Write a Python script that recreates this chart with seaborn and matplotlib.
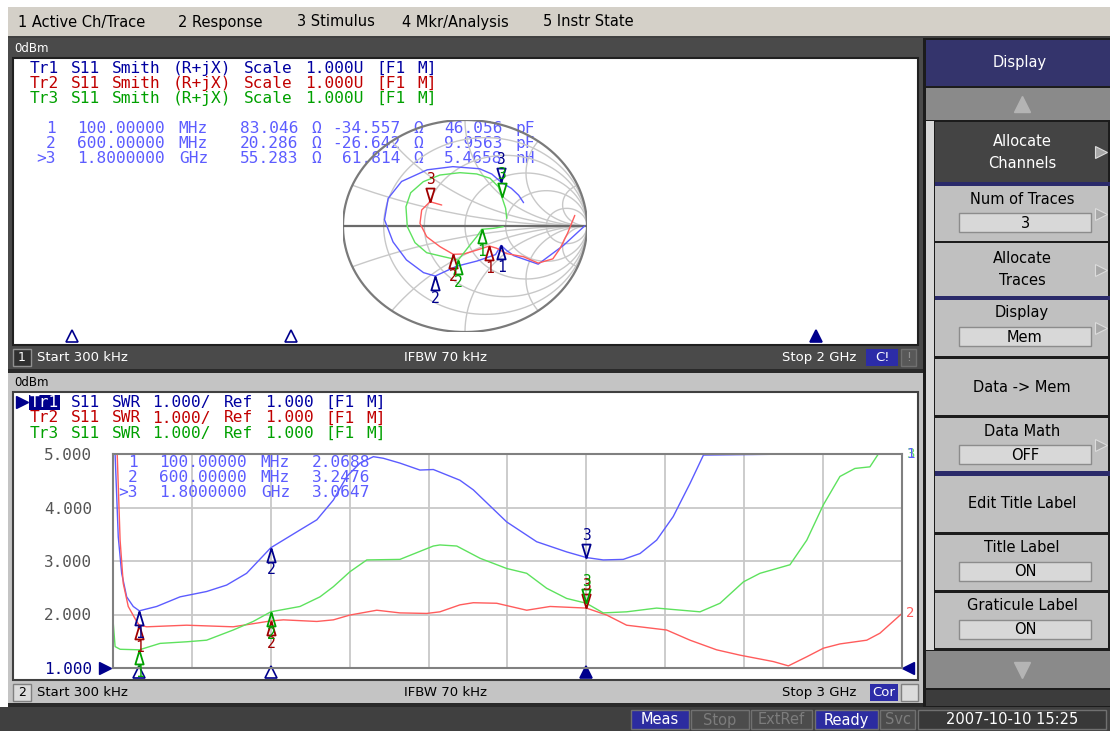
"""
Network analyzer screen: S11 Smith chart (channel 1) and SWR (channel 2)
with three memory/data traces, markers at 100 MHz, 600 MHz and 1.8 GHz.
"""

import re
import numpy as np
import pandas as pd
import matplotlib
matplotlib.use("Agg")
import matplotlib.pyplot as plt
from matplotlib.patches import Rectangle
from matplotlib.transforms import offset_copy
import seaborn as sns

sns.set_style("white")
plt.rcParams["font.family"] = ["DejaVu Sans"]

# ── Data read from the screen ────────────────────────────────────────────────
# Channel 1: Smith chart, reflection coefficient (real, imag)
tr1_smith_re = [0.98, 0.81, 0.60, 0.50, 0.40, 0.34, 0.296, 0.25, 0.10, -0.07, -0.244,
                -0.34, -0.48, -0.59, -0.66, -0.63, -0.52, -0.31, -0.10, 0.12, 0.22,
                0.294, 0.38, 0.44, 0.48]
tr1_smith_im = [0.0, -0.18, -0.36, -0.32, -0.28, -0.23, -0.183, -0.27, -0.33, -0.38, -0.472,
                -0.44, -0.32, -0.15, 0.06, 0.26, 0.42, 0.53, 0.56, 0.54, 0.49,
                0.415, 0.355, 0.29, 0.22]
tr2_smith_re = [0.90, 0.84, 0.78, 0.72, 0.60, 0.48, 0.34, 0.26, 0.20, 0.10, -0.01, -0.096,
                -0.205, -0.314, -0.369, -0.355, -0.287, -0.191]
tr2_smith_im = [0.10, -0.07, -0.21, -0.31, -0.35, -0.29, -0.26, -0.21, -0.189, -0.226, -0.264,
                -0.267, -0.195, -0.101, 0.025, 0.151, 0.229, 0.198]
tr3_smith_re = [0.314, 0.232, 0.137, 0.096, 0.041, -0.055, -0.178, -0.314, -0.41, -0.473,
                -0.484, -0.445, -0.342, -0.205, -0.041, 0.096, 0.205, 0.273, 0.301, 0.333, 0.342]
tr3_smith_im = [-0.006, -0.022, -0.031, -0.101, -0.179, -0.321, -0.289, -0.252, -0.157, -0.006,
                0.182, 0.314, 0.418, 0.481, 0.503, 0.491, 0.45, 0.371, 0.277, 0.167, 0.072]

# Smith marker positions (markers 1, 2, 3)
mk1_smith_re = [0.296, -0.244, 0.294]
mk1_smith_im = [-0.183, -0.472, 0.415]
mk2_smith_re = [0.20, -0.096, -0.287]
mk2_smith_im = [-0.189, -0.267, 0.229]
mk3_smith_re = [0.137, -0.055, 0.301]
mk3_smith_im = [-0.031, -0.321, 0.277]

# Channel 2: SWR vs frequency (GHz), displayed values (top of scale = 5)
freq_tr1 = [0.0, 0.008, 0.020, 0.033, 0.052, 0.077, 0.1, 0.166, 0.255, 0.356, 0.432, 0.508,
            0.6, 0.711, 0.775, 0.838, 0.889, 0.939, 0.99, 1.028, 1.091, 1.167, 1.218, 1.319,
            1.370, 1.497, 1.611, 1.725, 1.8, 1.864, 1.940, 2.004, 2.067, 2.130, 2.194, 2.245,
            2.6, 3.0]
swr_tr1 = [5.0, 5.0, 3.45, 2.77, 2.33, 2.15, 2.0688, 2.15, 2.33, 2.43, 2.55, 2.77,
           3.2476, 3.58, 3.77, 4.14, 4.58, 4.83, 4.95, 4.92, 4.83, 4.70, 4.71, 4.51,
           4.33, 3.73, 3.36, 3.17, 3.0647, 3.02, 3.03, 3.14, 3.39, 3.83, 4.45, 4.98,
           5.0, 5.0]
freq_tr2 = [0.0, 0.016, 0.027, 0.039, 0.058, 0.090, 0.1, 0.128, 0.280, 0.457, 0.6, 0.648,
            0.775, 0.838, 0.901, 1.003, 1.091, 1.193, 1.243, 1.319, 1.370, 1.459, 1.573,
            1.662, 1.8, 1.877, 1.953, 2.105, 2.194, 2.295, 2.384, 2.511, 2.568, 2.638,
            2.701, 2.764, 2.866, 2.916, 3.0]
swr_tr2 = [5.0, 5.0, 3.39, 2.58, 2.15, 1.87, 1.80, 1.77, 1.80, 1.77, 1.88, 1.90,
           1.87, 1.90, 1.99, 2.08, 2.03, 2.02, 2.05, 2.18, 2.22, 2.21, 2.08,
           2.15, 2.12, 1.99, 1.80, 1.71, 1.52, 1.34, 1.24, 1.12, 1.04, 1.21,
           1.37, 1.45, 1.52, 1.65, 2.02]
freq_tr3 = [0.0, 0.008, 0.027, 0.1, 0.179, 0.280, 0.356, 0.457, 0.533, 0.6, 0.711, 0.787,
            0.838, 0.901, 0.965, 1.091, 1.218, 1.243, 1.307, 1.396, 1.497, 1.573, 1.649,
            1.725, 1.8, 1.864, 1.953, 2.067, 2.232, 2.308, 2.397, 2.460, 2.574, 2.638,
            2.701, 2.764, 2.821, 2.878, 2.910, 3.0]
swr_tr3 = [1.90, 1.40, 1.35, 1.34, 1.46, 1.49, 1.52, 1.71, 1.87, 2.05, 2.15, 2.33,
           2.52, 2.80, 3.02, 3.03, 3.28, 3.30, 3.28, 3.05, 2.86, 2.77, 2.49,
           2.30, 2.21, 2.03, 2.05, 2.12, 2.05, 2.21, 2.61, 2.77, 2.93, 3.39,
           4.05, 4.58, 4.73, 4.76, 5.0, 5.0]

mk_freq = [0.1, 0.6, 1.8]
mk_swr_tr1 = [2.0688, 3.2476, 3.0647]
mk_swr_tr2 = [1.80, 1.88, 2.12]
mk_swr_tr3 = [1.34, 2.05, 2.21]

swr_ticks = [1, 2, 3, 4, 5]

ch1_header = ["Tr1 S11 Smith (R+jX) Scale 1.000U [F1 M]",
              "Tr2 S11 Smith (R+jX) Scale 1.000U [F1 M]",
              "Tr3 S11 Smith (R+jX) Scale 1.000U [F1 M]"]
ch1_readout = [" 1  100.00000 MHz   83.046 Ω -34.557 Ω  46.056 pF",
               " 2  600.00000 MHz   20.286 Ω -26.642 Ω  9.9563 pF",
               ">3  1.8000000 GHz   55.283 Ω  61.814 Ω  5.4658 nH"]
ch2_header = ["S11 SWR 1.000/ Ref 1.000 [F1 M]"] * 3
ch2_readout = [" 1  100.00000 MHz  2.0688",
               " 2  600.00000 MHz  3.2476",
               ">3  1.8000000 GHz  3.0647"]

menu_items = ["1 Active Ch/Trace", "2 Response", "3 Stimulus", "4 Mkr/Analysis", "5 Instr State"]

# colours
LINE = ["#5c5cff", "#ff5c5c", "#5ee25e"]
MARK = ["#00008c", "#a00000", "#00a000"]
TXT = ["#0000a0", "#c00000", "#00a000"]
GRID = "#c8c8c8"
MONO = 11.6     # font size of the instrument's fixed-pitch text
CW = 10.2       # its character pitch in pixels

# ── Figure / screen chrome ───────────────────────────────────────────────────
W, H = 1110, 731
fig = plt.figure(figsize=(W / 100, H / 100), dpi=100)
bg = fig.add_axes([0, 0, 1, 1])
bg.set_xlim(0, W)
bg.set_ylim(H, 0)
bg.axis("off")


def box(x0, y0, x1, y1, fc, ec="none", lw=0.0):
    bg.add_patch(Rectangle((x0, y0), x1 - x0, y1 - y0, facecolor=fc, edgecolor=ec, linewidth=lw))


def label(x, y, s, color="black", size=10, ha="left", mono=False, ax=None, va="center", **kw):
    (ax or bg).text(x, y, s, color=color, fontsize=size, ha=ha, va=va,
                    family="DejaVu Sans Mono" if mono else "DejaVu Sans",
                    transform=bg.transData, clip_on=False, **kw)


def mono_line(x0, y, s, color, ax=None):
    # lay the words out on the instrument's character grid, on one baseline
    for m in re.finditer(r"\S+", s):
        label(x0 + m.start() * CW, y + 5, m.group(), color=color, size=MONO, mono=True,
              ax=ax, va="baseline")


def px_axes(x0, y0, x1, y1):
    return fig.add_axes([x0 / W, 1 - y1 / H, (x1 - x0) / W, (y1 - y0) / H])


box(0, 0, W, H, "white")
# menu bar
box(8, 7, W, 36, "#d4d0c8")
box(8, 36, W, 38, "#404040")
for x, s in zip([18, 178, 297, 402, 543], menu_items):
    label(x, 22, s, size=10.5)

# channel 1 window
box(8, 38, 923, 370, "#4a4a4a")
label(14, 48, "0dBm", color="white", size=8.5)
box(13, 58, 918, 345, "white", ec="#202020", lw=1.5)
box(13, 349, 31, 366, "#303030", ec="#909090", lw=1)
label(22, 357.5, "1", color="white", size=9, ha="center")
label(37, 357.5, "Start 300 kHz", color="white", size=9.5)
label(404, 357.5, "IFBW 70 kHz", color="white", size=9.5)
label(856, 357.5, "Stop 2 GHz", color="white", size=9.5, ha="right")
box(866, 349, 898, 366, "#2c2ca8")
label(882, 357.5, "C!", color="white", size=9.5, ha="center")
box(901, 349, 916, 366, "#585858", ec="#707070", lw=1)
label(908.5, 357.5, "!", color="#909090", size=9, ha="center")
box(8, 369, 923, 373, "#2a2a2a")

# channel 2 window
box(8, 373, 923, 703, "#c4c4c4")
label(14, 383, "0dBm", color="black", size=8.5)
box(13, 392, 918, 680, "white", ec="#404040", lw=1.5)
box(13, 684, 31, 701, "#dcdcdc", ec="#808080", lw=1)
label(22, 692.5, "2", size=9, ha="center")
label(37, 692.5, "Start 300 kHz", size=9.5)
label(404, 692.5, "IFBW 70 kHz", size=9.5)
label(856, 692.5, "Stop 3 GHz", size=9.5, ha="right")
box(870, 684, 898, 701, "#2c2ca8")
label(884, 692.5, "Cor", color="white", size=9.5, ha="center")
box(901, 684, 918, 701, "#dcdcdc", ec="#808080", lw=1)
box(8, 703, 923, 707, "#2a2a2a")

# status bar
box(0, 707, W, H, "#404040")
status = [(631, 689, "Meas", "#2c2ca0", "white"), (691, 749, "Stop", "#4c4c4c", "#7c7c7c"),
          (751, 812, "ExtRef", "#4c4c4c", "#7c7c7c"), (815, 878, "Ready", "#2c2ca0", "white"),
          (880, 915, "Svc", "#4c4c4c", "#7c7c7c"), (918, 1106, "2007-10-10 15:25", "#383838", "white")]
for x0, x1, s, fc, tc in status:
    box(x0, 710, x1, 729, fc, ec="#707070", lw=1)
    label((x0 + x1) / 2, 720, s, color=tc, size=10.5, ha="center")

# softkey panel
box(923, 38, W, 707, "#1c1c1c")
box(926, 121, 934, 650, "#d8d8d8")
box(926, 40, W, 86, "#34346c")
label(1020, 62, "Display", color="white", size=10.5, ha="center")
box(926, 88, W, 120, "#8a8a8a")
bg.plot([1022], [104], marker="^", ms=11, color="#b4b4b4", mec="#b4b4b4")
box(926, 651, W, 688, "#8a8a8a")
bg.plot([1022], [670], marker="v", ms=11, color="#b4b4b4", mec="#b4b4b4")
box(926, 690, W, 706, "#3c3c3c")
for y0, y1 in [(182, 186), (296, 300), (471, 476)]:
    box(935, y0, W, y1, "#2a2a6a")

softkeys = [(122, 182, ["Allocate", "Channels"], None, True, "#444444", "white"),
            (186, 241, ["Num of Traces"], "3", True, "#c0c0c0", "black"),
            (243, 296, ["Allocate", "Traces"], None, True, "#c0c0c0", "black"),
            (300, 356, ["Display"], "Mem", True, "#c0c0c0", "black"),
            (359, 415, ["Data -> Mem"], None, False, "#c0c0c0", "black"),
            (418, 471, ["Data Math"], "OFF", True, "#c0c0c0", "black"),
            (476, 532, ["Edit Title Label"], None, False, "#c0c0c0", "black"),
            (535, 590, ["Title Label"], "ON", False, "#c0c0c0", "black"),
            (593, 648, ["Graticule Label"], "ON", False, "#c0c0c0", "black")]
for y0, y1, lines, value, arrow, fc, tc in softkeys:
    box(935, y0, 1108, y1, fc)
    cy = (y0 + y1) / 2
    if value is None:
        if len(lines) == 2:
            label(1022, cy - 11, lines[0], color=tc, size=10.5, ha="center")
            label(1022, cy + 11, lines[1], color=tc, size=10.5, ha="center")
        else:
            label(1022, cy, lines[0], color=tc, size=10.5, ha="center")
    else:
        label(1022, y0 + 13, lines[0], color=tc, size=10.5, ha="center")
        box(959, y0 + 27, 1091, y0 + 46, "#d8d8d8", ec="#8c8c8c", lw=1)
        label(1025, y0 + 37, value, size=10.5, ha="center")
    if arrow:
        bg.plot([1101], [cy], marker=">", ms=8, color="#a8a8a8", mec="#dcdcdc", mew=0.8)

# trace header text
for i in range(3):
    mono_line(30, 68 + 15 * i, ch1_header[i], TXT[i])
    mono_line(36, 128 + 15 * i, ch1_readout[i], LINE[0])
box(29, 395, 60, 410, "#00008c")
bg.plot([22], [402], marker=">", ms=8, color="#00008c")
for i in range(3):
    mono_line(30, 402 + 15.5 * i, "Tr%d " % (i + 1), "white" if i == 0 else TXT[i])
    mono_line(30 + 4 * CW, 402 + 15.5 * i, ch2_header[i], TXT[i])


def draw_marker(ax, x, y, num, color, up=True):
    shape = [(0, 1), (-0.6, -1), (0.6, -1), (0, 1)] if up else [(0, -1), (-0.6, 1), (0.6, 1), (0, -1)]
    sgn = -1 if up else 1
    ax.plot([x], [y], marker=shape, ms=10, mfc="none", mec=color, mew=1.3, clip_on=False,
            transform=offset_copy(ax.transData, fig=fig, y=5 * sgn, units="points"))
    ax.text(x, y, num, color=color, fontsize=10.5, family="DejaVu Sans Mono", ha="center", va="center",
            transform=offset_copy(ax.transData, fig=fig, y=16 * sgn, units="points"), clip_on=False)


# ── Channel 1: Smith chart ───────────────────────────────────────────────────
sm = px_axes(343, 120, 587, 332)
sm.patch.set_alpha(0)
t = np.linspace(0, 2 * np.pi, 2000)
for r in [0.2, 0.5, 1, 2, 5]:
    c, rad = r / (1 + r), 1 / (1 + r)
    sm.plot(c + rad * np.cos(t), rad * np.sin(t), color=GRID, lw=1)
for xv in [0.2, 0.5, 1, 2, 5]:
    for s in (1, -1):
        gx = 1 + np.cos(t) / xv
        gy = s / xv + np.sin(t) / xv
        inside = gx ** 2 + gy ** 2 <= 1.0
        sm.plot(np.where(inside, gx, np.nan), np.where(inside, gy, np.nan), color=GRID, lw=1)
sm.plot(np.cos(t), np.sin(t), color="#7a7a7a", lw=1.6)
sm.plot([-1, 1], [0, 0], color="#6a6a6a", lw=1.6)

smith = [(tr1_smith_re, tr1_smith_im, mk1_smith_re, mk1_smith_im),
         (tr2_smith_re, tr2_smith_im, mk2_smith_re, mk2_smith_im),
         (tr3_smith_re, tr3_smith_im, mk3_smith_re, mk3_smith_im)]
for i, (sre, sim, mre, mim) in enumerate(smith):
    df = pd.DataFrame({"re": sre, "im": sim})
    sns.lineplot(data=df, x="re", y="im", ax=sm, sort=False, estimator=None, color=LINE[i], lw=1)
for i, (sre, sim, mre, mim) in enumerate(smith):
    for k in range(3):
        draw_marker(sm, mre[k], mim[k], str(k + 1), MARK[i], up=(k < 2))
sm.set_xlim(-1, 1)
sm.set_ylim(-1, 1)
sm.axis("off")

# marker position indicators on channel 1 (stop 2 GHz)
ind = px_axes(28, 330, 904, 342)
ind.set_xlim(0, 2)
ind.set_ylim(0, 1)
ind.axis("off")
for k, f in enumerate(mk_freq):
    ind.plot([f], [0.5], marker="^", ms=8, mec=MARK[0], mew=1.2,
             mfc=MARK[0] if k == 2 else "none", clip_on=False)

# ── Channel 2: SWR ───────────────────────────────────────────────────────────
ax = px_axes(113, 454, 902, 668)
ax.patch.set_alpha(0)
swr = [(freq_tr1, swr_tr1, mk_swr_tr1), (freq_tr2, swr_tr2, mk_swr_tr2), (freq_tr3, swr_tr3, mk_swr_tr3)]
for i, (f, v, mv) in enumerate(swr):
    df = pd.DataFrame({"freq": f, "swr": v})
    sns.lineplot(data=df, x="freq", y="swr", ax=ax, sort=False, estimator=None, color=LINE[i], lw=1)
ax.set_xlim(0, 3)
ax.set_ylim(1, 5)
ax.set_xticks(np.linspace(0, 3, 11))
ax.set_xticklabels([])
ax.set_yticks(swr_ticks)
ax.set_yticklabels(["%.3f" % v for v in swr_ticks], family="DejaVu Sans Mono", fontsize=11.5,
                   color="#555555")
ax.get_yticklabels()[0].set_color("#00008c")
ax.tick_params(length=0, pad=15)
ax.set_xlabel("")
ax.set_ylabel("")
ax.grid(True, color=GRID, lw=1.3)
for sp in ax.spines.values():
    sp.set_color("#808080")
    sp.set_linewidth(1.5)

for i, (f, v, mv) in enumerate(swr):
    for k in range(3):
        draw_marker(ax, mk_freq[k], mv[k], str(k + 1), MARK[i], up=(k < 2))
for i, num in [(2, "3"), (0, "1"), (1, "2")]:
    f, v, mv = swr[i]
    ax.annotate(num, xy=(f[-1], v[-1]), xytext=(3, 0), textcoords="offset points",
                color=LINE[i], fontsize=10, family="DejaVu Sans Mono", va="center", annotation_clip=False)

xax = offset_copy(ax.get_xaxis_transform(), fig=fig, y=-3, units="points")
for k, f in enumerate(mk_freq):
    ax.plot([f], [0], marker="^", ms=8, mec=MARK[0], mew=1.2,
            mfc=MARK[0] if k == 2 else "none", transform=xax, clip_on=False)
ax.plot([0], [1], marker=">", ms=9, color=MARK[0], clip_on=False,
        transform=offset_copy(ax.transData, fig=fig, x=-6, units="points"))
ax.plot([3], [1], marker="<", ms=9, color=MARK[0], clip_on=False,
        transform=offset_copy(ax.transData, fig=fig, x=4, units="points"))

for i in range(3):
    mono_line(118, 462 + 15 * i, ch2_readout[i], LINE[0], ax=ax)

plt.savefig("out.png", dpi=100)
